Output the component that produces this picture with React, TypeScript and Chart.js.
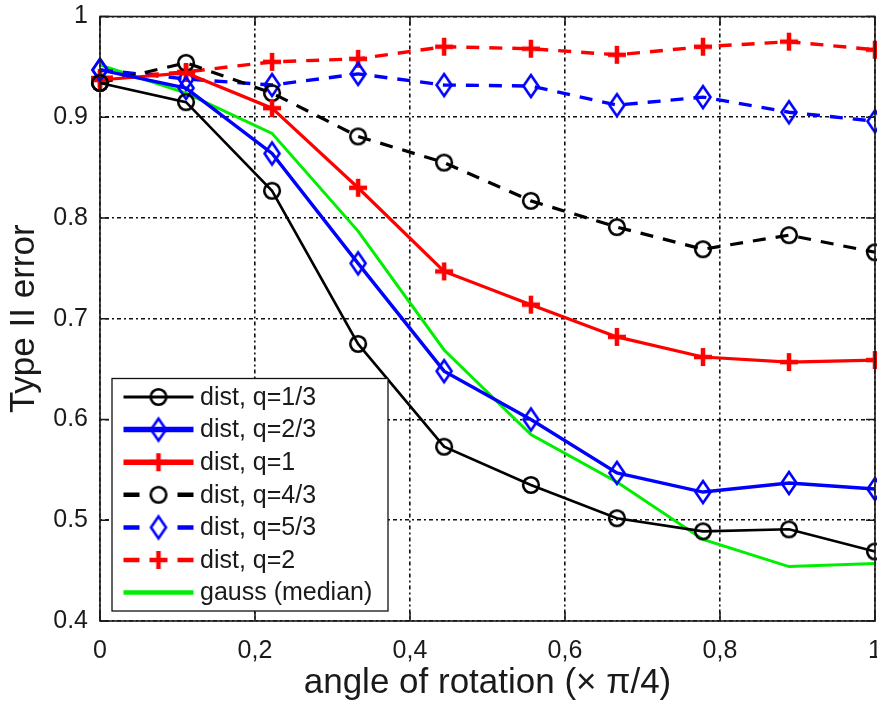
import React, { useEffect, useRef } from "react";
import { Chart, registerables } from "chart.js";

Chart.register(...registerables);

// ---------- data ----------
const xValues = [0, 0.111, 0.222, 0.333, 0.444, 0.556, 0.667, 0.778, 0.889, 1];
const seriesLabels = [
  "dist, q=1/3",
  "dist, q=2/3",
  "dist, q=1",
  "dist, q=4/3",
  "dist, q=5/3",
  "dist, q=2",
  "gauss (median)",
];
const q13 = [0.934, 0.915, 0.827, 0.675, 0.573, 0.535, 0.502, 0.489, 0.491, 0.469];
const q23 = [0.947, 0.929, 0.864, 0.755, 0.648, 0.6, 0.547, 0.528, 0.537, 0.531];
const q1 = [0.937, 0.944, 0.909, 0.83, 0.747, 0.714, 0.682, 0.662, 0.657, 0.659];
const q43 = [0.934, 0.954, 0.924, 0.881, 0.855, 0.817, 0.791, 0.769, 0.783, 0.766];
const q53 = [0.947, 0.938, 0.932, 0.943, 0.932, 0.931, 0.912, 0.92, 0.905, 0.896];
const q2 = [0.939, 0.945, 0.955, 0.958, 0.97, 0.968, 0.962, 0.97, 0.975, 0.967];
const gauss = [0.952, 0.924, 0.884, 0.787, 0.669, 0.585, 0.538, 0.481, 0.454, 0.457];

const xTickLabels = ["0", "0,2", "0,4", "0,6", "0,8", "1"];
const yTickLabels = ["0.4", "0.5", "0.6", "0.7", "0.8", "0.9", "1"];
const xTitle = "angle of rotation (\u00d7 \u03c0/4)";
const yTitle = "Type II error";

const FONT = "'Liberation Sans', Arial, Helvetica, sans-serif";
const TEXT = "#1a1a1a";

// ---------- marker images ----------
function makeCircle(color: string) {
  const c = document.createElement("canvas");
  c.width = 22;
  c.height = 22;
  const g = c.getContext("2d")!;
  g.strokeStyle = color;
  g.lineWidth = 2.6;
  g.beginPath();
  g.arc(11, 11, 7.8, 0, Math.PI * 2);
  g.stroke();
  return c;
}
function makeDiamond(color: string) {
  const c = document.createElement("canvas");
  c.width = 22;
  c.height = 28;
  const g = c.getContext("2d")!;
  g.strokeStyle = color;
  g.lineWidth = 2.6;
  g.lineJoin = "miter";
  g.beginPath();
  g.moveTo(11, 3);
  g.lineTo(18.5, 14);
  g.lineTo(11, 25);
  g.lineTo(3.5, 14);
  g.closePath();
  g.stroke();
  return c;
}
function makePlus(color: string) {
  const c = document.createElement("canvas");
  c.width = 24;
  c.height = 24;
  const g = c.getContext("2d")!;
  g.strokeStyle = color;
  g.lineWidth = 4.5;
  g.beginPath();
  g.moveTo(3, 12);
  g.lineTo(21, 12);
  g.moveTo(12, 3);
  g.lineTo(12, 21);
  g.stroke();
  return c;
}

// ---------- plugin: box, inward ticks, legend ----------
const framePlugin = {
  id: "frame",
  afterDraw(chart: any) {
    const ctx = chart.ctx as CanvasRenderingContext2D;
    const { left, right, top, bottom } = chart.chartArea;
    const xs = chart.scales.x;
    const ys = chart.scales.y;
    ctx.save();

    // legend
    const lx = left + 12;
    const ly = top + 362;
    const lw = 276;
    const lh = 232.5;
    ctx.fillStyle = "#fff";
    ctx.fillRect(lx, ly, lw, lh);
    ctx.strokeStyle = "#111";
    ctx.lineWidth = 1.3;
    ctx.strokeRect(lx, ly, lw, lh);
    ctx.font = `25px ${FONT}`;
    ctx.textBaseline = "middle";
    ctx.textAlign = "left";
    chart.data.datasets.forEach((ds: any, i: number) => {
      const y = ly + 18.5 + i * 32.6;
      const x0 = lx + 11.5;
      const x1 = lx + 81.5;
      const xm = (x0 + x1) / 2;
      ctx.strokeStyle = ds.borderColor;
      ctx.lineWidth = ds.legendWidth;
      ctx.setLineDash([]);
      ctx.beginPath();
      if (ds.borderDash && ds.borderDash.length) {
        ctx.moveTo(x0, y);
        ctx.lineTo(x0 + 16, y);
        ctx.moveTo(x1 - 16, y);
        ctx.lineTo(x1, y);
      } else {
        ctx.moveTo(x0, y);
        ctx.lineTo(x1, y);
      }
      ctx.stroke();
      if (ds.pointStyle && typeof ds.pointStyle === "object") {
        const img = ds.pointStyle as HTMLCanvasElement;
        ctx.drawImage(img, xm - img.width / 2, y - img.height / 2);
      }
      ctx.fillStyle = TEXT;
      ctx.fillText(ds.label, lx + 88, y + 1);
    });

    // box
    ctx.strokeStyle = "#1a1a1a";
    ctx.lineWidth = 1.6;
    ctx.setLineDash([]);
    ctx.strokeRect(left, top, right - left, bottom - top);

    // inward ticks
    const tl = 9;
    ctx.beginPath();
    xs.ticks.forEach((t: any) => {
      const px = xs.getPixelForValue(t.value);
      ctx.moveTo(px, bottom);
      ctx.lineTo(px, bottom - tl);
      ctx.moveTo(px, top);
      ctx.lineTo(px, top + tl);
    });
    ys.ticks.forEach((t: any) => {
      const py = ys.getPixelForValue(t.value);
      ctx.moveTo(left, py);
      ctx.lineTo(left + tl, py);
      ctx.moveTo(right, py);
      ctx.lineTo(right - tl, py);
    });
    ctx.stroke();
    ctx.restore();
  },
};

export default function App() {
  const ref = useRef<HTMLCanvasElement>(null);

  useEffect(() => {
    document.body.style.margin = "0";
    const blackCircle = makeCircle("#000");
    const blueDiamond = makeDiamond("#0000ff");
    const redPlus = makePlus("#ff0000");

    const pts = (vals: number[]) => xValues.map((x, i) => ({ x, y: vals[i] }));
    const dash = [13, 10];
    const mk = (
      label: string,
      vals: number[],
      color: string,
      width: number,
      legendWidth: number,
      dashed: boolean,
      marker: HTMLCanvasElement | null
    ) => ({
      label,
      data: pts(vals),
      borderColor: color,
      backgroundColor: color,
      borderWidth: width,
      legendWidth,
      borderDash: dashed ? dash : [],
      pointStyle: marker || "circle",
      pointRadius: marker ? 9 : 0,
      pointHoverRadius: marker ? 9 : 0,
      tension: 0,
      fill: false,
      clip: false,
    });

    const datasets: any[] = [
      mk(seriesLabels[0], q13, "#000000", 2.6, 3, false, blackCircle),
      mk(seriesLabels[1], q23, "#0000ff", 3.4, 5.5, false, blueDiamond),
      mk(seriesLabels[2], q1, "#ff0000", 3.2, 5.5, false, redPlus),
      mk(seriesLabels[3], q43, "#000000", 3.2, 4.5, true, blackCircle),
      mk(seriesLabels[4], q53, "#0000ff", 3.4, 4.5, true, blueDiamond),
      mk(seriesLabels[5], q2, "#ff0000", 3.4, 4.5, true, redPlus),
      mk(seriesLabels[6], gauss, "#00ee00", 3, 4.5, false, null),
    ];

    const gridDash = [2, 3, 4, 3];
    const chart = new Chart(ref.current!, {
      type: "line",
      data: { datasets },
      plugins: [framePlugin],
      options: {
        responsive: false,
        animation: false,
        devicePixelRatio: 1,
        layout: { autoPadding: false, padding: { top: 16.5, right: 2, left: 0, bottom: 0 } },
        plugins: {
          legend: { display: false },
          tooltip: { enabled: false },
          title: { display: false },
        },
        events: [],
        scales: {
          x: {
            type: "linear",
            min: 0,
            max: 1,
            ticks: {
              stepSize: 0.2,
              padding: 15,
              color: TEXT,
              font: { family: FONT, size: 25 },
              maxRotation: 0,
              autoSkip: false,
              callback: (_v: any, i: number) => xTickLabels[i],
            },
            grid: { color: "#111", lineWidth: 1.6, drawTicks: false },
            border: { display: false, dash: gridDash },
            title: {
              display: true,
              text: xTitle,
              color: TEXT,
              font: { family: FONT, size: 35, lineHeight: 1 },
              padding: { top: 0, bottom: 2 },
            },
            afterFit: (s: any) => {
              s.height = 82;
              s.paddingLeft = 0;
              s.paddingRight = 0;
            },
          },
          y: {
            type: "linear",
            min: 0.4,
            max: 1,
            ticks: {
              stepSize: 0.1,
              padding: 12,
              color: TEXT,
              font: { family: FONT, size: 25 },
              autoSkip: false,
              callback: (_v: any, i: number) => yTickLabels[i],
            },
            grid: { color: "#111", lineWidth: 1.6, drawTicks: false },
            border: { display: false, dash: gridDash },
            title: {
              display: true,
              text: yTitle,
              color: TEXT,
              font: { family: FONT, size: 35, lineHeight: 1 },
              padding: { top: 7, bottom: 0 },
            },
            afterFit: (s: any) => {
              s.width = 100;
              s.paddingTop = 0;
              s.paddingBottom = 0;
            },
          },
        },
      } as any,
    });
    return () => chart.destroy();
  }, []);

  return (
    <div style={{ width: 877, height: 703 }}>
      <canvas ref={ref} width={877} height={703} style={{ display: "block" }} />
    </div>
  );
}
